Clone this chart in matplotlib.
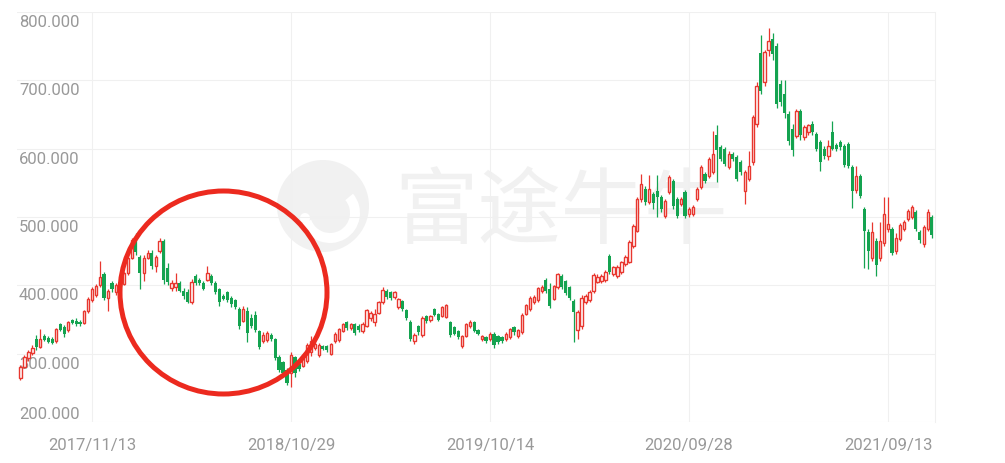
import matplotlib.pyplot as plt
import matplotlib.transforms as mtransforms
from matplotlib.patches import Ellipse, Circle, Wedge
import numpy as np
import pandas as pd

# weekly candles, 2017/07/10 .. 2021/11/29
opens = [265, 281, 294, 301, 322, 310, 326, 323, 321, 318,
         343, 339, 334, 349, 348, 347, 345, 362, 378, 386,
         400, 416, 382, 404, 390, 405, 402, 418, 440, 470,
         441, 418, 440, 448, 428, 450, 465, 425, 396, 398,
         404, 392, 390, 376, 414, 408, 404, 408, 414, 404,
         394, 384, 390, 382, 378, 365, 348, 362, 352, 356,
         333, 318, 320, 327, 321, 295, 288, 276, 272, 295,
         285, 282, 290, 302, 308, 298, 311, 311, 300, 318,
         320, 333, 346, 337, 343, 340, 333, 341, 352, 347,
         360, 375, 391, 390, 383, 369, 377, 364, 347, 318,
         340, 327, 355, 350, 365, 358, 355, 354, 346, 339,
         333, 311, 326, 340, 346, 334, 321, 324, 321, 329,
         326, 324, 321, 324, 339, 326, 331, 358, 366, 376,
         378, 392, 408, 395, 380, 397, 413, 406, 397, 377,
         335, 340, 376, 378, 391, 405, 406, 408, 443, 416,
         413, 419, 431, 434, 457, 480, 526, 541, 522, 533,
         538, 529, 501, 536, 553, 526, 519, 536, 504, 505,
         526, 544, 563, 560, 566, 620, 602, 600, 573, 592,
         588, 580, 538, 555, 580, 636, 740, 698, 745, 760,
         750, 695, 680, 651, 629, 618, 655, 617, 624, 636,
         621, 610, 600, 589, 625, 606, 610, 604, 607, 573,
         540, 560, 512, 478, 440, 465, 440, 462, 482, 482,
         450, 468, 482, 497, 500, 507, 478, 460, 482, 500]
highs = [283, 298, 305, 312, 328, 336, 329, 326, 324, 338,
         345, 342, 348, 351, 352, 349, 364, 383, 398, 402,
         436, 420, 395, 407, 404, 407, 420, 443, 470, 476,
         444, 445, 452, 452, 444, 470, 468, 432, 408, 418,
         406, 396, 394, 409, 417, 411, 406, 428, 417, 407,
         396, 388, 392, 384, 380, 368, 370, 368, 358, 362,
         335, 331, 333, 330, 323, 298, 290, 279, 302, 297,
         291, 296, 315, 326, 317, 315, 313, 313, 316, 331,
         338, 345, 348, 345, 345, 343, 346, 366, 363, 366,
         377, 397, 395, 392, 392, 382, 379, 366, 349, 330,
         342, 355, 357, 357, 367, 360, 370, 373, 348, 341,
         335, 328, 345, 349, 348, 336, 328, 326, 331, 331,
         328, 326, 331, 338, 341, 336, 359, 373, 385, 386,
         398, 400, 411, 404, 401, 418, 416, 408, 399, 380,
         364, 386, 387, 393, 418, 416, 416, 423, 446, 429,
         430, 436, 444, 466, 490, 530, 563, 545, 561, 536,
         561, 532, 526, 561, 556, 529, 529, 539, 515, 517,
         544, 576, 566, 588, 626, 634, 605, 603, 596, 595,
         591, 583, 569, 596, 650, 698, 766, 745, 776, 770,
         755, 700, 700, 655, 636, 658, 658, 635, 636, 640,
         624, 613, 604, 612, 640, 609, 612, 607, 610, 576,
         575, 563, 515, 482, 493, 470, 493, 529, 529, 486,
         476, 491, 496, 512, 517, 510, 481, 489, 511, 503]
lows = [262, 279, 290, 298, 306, 308, 318, 315, 314, 316,
        333, 325, 332, 343, 341, 340, 343, 360, 376, 383,
        398, 378, 362, 390, 386, 398, 400, 415, 438, 445,
        394, 407, 438, 424, 420, 448, 402, 400, 392, 391,
        390, 380, 374, 372, 400, 401, 393, 406, 401, 387,
        370, 378, 375, 368, 366, 336, 346, 317, 337, 332,
        307, 315, 317, 318, 291, 273, 269, 254, 251, 266,
        274, 280, 286, 296, 305, 295, 305, 302, 298, 316,
        317, 331, 335, 335, 328, 332, 330, 339, 348, 340,
        358, 373, 380, 378, 380, 366, 362, 350, 318, 314,
        328, 325, 345, 347, 355, 348, 353, 352, 324, 327,
        322, 309, 324, 338, 331, 327, 319, 316, 319, 309,
        314, 316, 318, 322, 328, 323, 329, 356, 363, 373,
        376, 389, 389, 367, 378, 395, 395, 386, 378, 317,
        321, 336, 373, 375, 389, 403, 403, 405, 417, 413,
        411, 417, 429, 432, 455, 478, 522, 518, 519, 512,
        500, 508, 498, 533, 512, 498, 516, 498, 500, 502,
        523, 541, 550, 557, 563, 551, 582, 574, 570, 582,
        552, 562, 519, 552, 576, 632, 680, 692, 735, 730,
        660, 662, 645, 605, 589, 615, 612, 612, 620, 620,
        596, 567, 585, 583, 598, 597, 598, 573, 572, 513,
        535, 528, 425, 424, 436, 413, 436, 458, 478, 445,
        446, 465, 479, 494, 497, 479, 462, 456, 479, 470]
closes = [280, 295, 302, 309, 310, 321, 320, 317, 316, 336,
          335, 329, 346, 345, 344, 343, 362, 380, 394, 399,
          412, 382, 392, 394, 401, 400, 418, 440, 466, 449,
          418, 440, 448, 428, 442, 465, 408, 405, 404, 404,
          392, 385, 376, 405, 404, 404, 395, 418, 403, 390,
          376, 380, 378, 372, 368, 340, 365, 330, 340, 334,
          310, 328, 330, 322, 294, 276, 272, 257, 298, 272,
          278, 293, 312, 318, 314, 312, 307, 305, 314, 329,
          336, 343, 337, 343, 330, 334, 343, 364, 359, 358,
          375, 393, 383, 381, 390, 380, 365, 352, 322, 327,
          331, 352, 348, 355, 357, 350, 368, 371, 327, 329,
          324, 326, 343, 347, 333, 329, 326, 318, 329, 312,
          317, 319, 329, 336, 331, 334, 357, 371, 382, 383,
          396, 397, 392, 370, 399, 416, 398, 389, 381, 361,
          361, 382, 384, 390, 415, 412, 413, 420, 420, 427,
          427, 434, 441, 463, 487, 526, 548, 522, 541, 520,
          529, 512, 523, 558, 516, 501, 526, 501, 512, 514,
          541, 573, 553, 585, 592, 598, 585, 578, 592, 585,
          555, 566, 566, 575, 646, 692, 684, 741, 758, 738,
          665, 668, 652, 611, 598, 655, 620, 632, 634, 625,
          599, 580, 590, 604, 600, 600, 602, 576, 575, 538,
          560, 531, 480, 450, 478, 430, 465, 505, 490, 448,
          470, 488, 493, 509, 514, 482, 466, 486, 508, 474]

tick_labels = ['2017/11/13', '2018/10/29', '2019/10/14', '2020/09/28', '2021/09/13']
y_ticks = [200, 300, 400, 500, 600, 700, 800]

UP = '#e8372f'
DOWN = '#14a350'
TEXT = '#999999'
GRID = '#f0f0f0'

plt.rcParams['font.family'] = ['Roboto', 'DejaVu Sans']


def main():
    week_dates = pd.date_range('2017-07-10', periods=len(closes), freq='W-MON')
    labels = list(week_dates.strftime('%Y/%m/%d'))
    tick_pos = [labels.index(t) for t in tick_labels]

    o = np.array(opens, dtype=float)
    h = np.array(highs, dtype=float)
    l = np.array(lows, dtype=float)
    c = np.array(closes, dtype=float)
    x = np.arange(len(c))
    up = c >= o

    fig = plt.figure(figsize=(10.05, 4.64), dpi=100)
    ax = fig.add_axes([17 / 1005, 41 / 464, 918 / 1005, 410 / 464])

    # wicks
    ax.vlines(x[up], l[up], h[up], color=UP, lw=0.9, zorder=3)
    ax.vlines(x[~up], l[~up], h[~up], color=DOWN, lw=0.9, zorder=3)

    # bodies: hollow red for up weeks, solid green for down weeks
    lo = np.minimum(o, c)
    hgt = np.maximum(np.abs(c - o), 1.5)
    ax.bar(x[up], hgt[up], 0.6, bottom=lo[up], facecolor='white',
           edgecolor=UP, linewidth=1.0, zorder=4)
    ax.bar(x[~up], hgt[~up], 0.8, bottom=lo[~up], color=DOWN,
           linewidth=0, zorder=4)

    ax.set_xlim(-0.85, 229.8)
    ax.set_ylim(200, 800)
    ax.set_yticks(y_ticks)
    ax.set_xticks(tick_pos)
    ax.set_xticklabels(tick_labels)
    ax.grid(True, color=GRID, lw=0.8, zorder=0)
    ax.tick_params(axis='x', length=0, pad=11, labelsize=12, labelcolor=TEXT)
    ax.tick_params(axis='y', left=False, labelleft=False)
    for side in ['left', 'top', 'bottom']:
        ax.spines[side].set_visible(False)
    ax.spines['right'].set_color(GRID)
    ax.spines['right'].set_linewidth(0.8)

    # y labels sit inside the plot, just under each grid line
    base = ax.get_yaxis_transform()
    for v in y_ticks:
        dy = 4 if v == y_ticks[0] else -14
        tr = mtransforms.offset_copy(base, fig=fig, x=2, y=dy, units='dots')
        ax.text(0, v, f'{v:.3f}', transform=tr, ha='left', va='baseline',
                fontsize=12, color=TEXT, zorder=2)

    # watermark
    inch = fig.dpi_scale_trans
    ax.add_patch(Circle((3.23, 2.57), 0.46, transform=inch,
                        facecolor='#f1f1f1', edgecolor='none', zorder=1))
    ax.add_patch(Wedge((3.30, 2.50), 0.30, 200, 40, width=0.10, transform=inch,
                       facecolor='white', edgecolor='none', zorder=1))
    ax.add_patch(Circle((3.05, 2.45), 0.05, transform=inch,
                        facecolor='white', edgecolor='none', zorder=1))
    ax.text(5.61, 2.51, '富途牛牛', transform=inch, ha='center', va='center',
            fontsize=60, color='#f1f1f1', zorder=1,
            family=['Noto Sans CJK SC', 'DejaVu Sans'])

    # highlight circle
    ax.add_patch(Ellipse((2.235, 1.705), 2.07, 2.03, transform=inch,
                         facecolor='none', edgecolor='#ec2a1f', lw=3.6,
                         zorder=6, clip_on=False))

    fig.savefig('out.png', dpi=100)
    plt.close(fig)


if __name__ == '__main__':
    main()
